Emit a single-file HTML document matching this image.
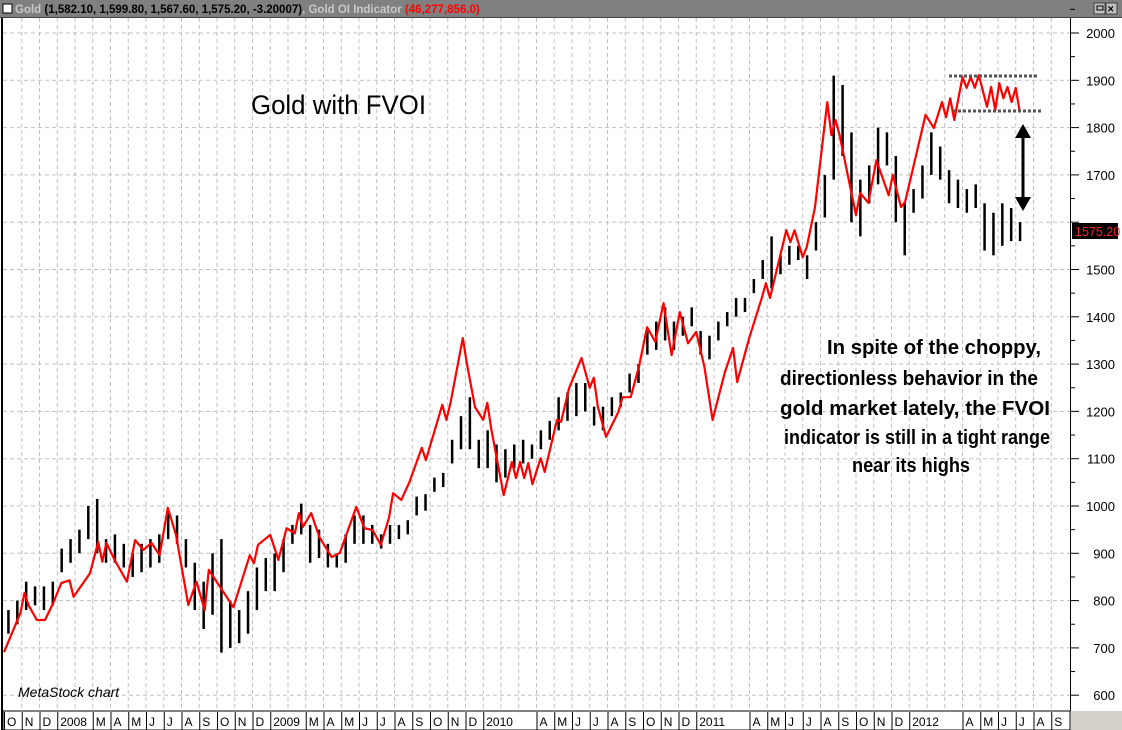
<!DOCTYPE html>
<html><head><meta charset="utf-8"><style>
html,body{margin:0;padding:0;background:#fff;}
svg{display:block;font-family:"Liberation Sans",sans-serif;}
</style></head><body>
<svg id="chart" width="1122" height="730" viewBox="0 0 1122 730" xmlns="http://www.w3.org/2000/svg">
<rect x="0" y="0" width="1122" height="730" fill="#fff"/>
<g id="grid"></g>
<g id="bars"></g>
<g id="redline"></g>
<!-- title bar -->
<rect x="0" y="0" width="1122" height="18" fill="#808080"/>
<line x1="0" y1="17.5" x2="1122" y2="17.5" stroke="#404040"/>
<rect x="3" y="4" width="9" height="9" fill="#fff" stroke="#000"/>
<text x="15" y="13" font-size="11.5" font-weight="bold"><tspan fill="#c8c8c8">Gold</tspan><tspan fill="#000"> (1,582.10, 1,599.80, 1,567.60, 1,575.20, -3.20007)</tspan><tspan fill="#c8c8c8">, Gold OI Indicator </tspan><tspan fill="#ff0000">(46,277,856.0)</tspan></text>
<rect x="1094" y="3" width="11" height="11" fill="#c0c0c0" stroke="#404040"/>
<rect x="1097" y="6" width="6" height="4" fill="none" stroke="#000"/>
<rect x="1106" y="3" width="11" height="11" fill="#c0c0c0" stroke="#404040"/>
<text x="1107.5" y="12.5" font-size="11" font-weight="bold">×</text>
<!-- frame -->
<line x1="2" y1="18" x2="2" y2="730" stroke="#000" stroke-width="2"/>
<line x1="1070.5" y1="18" x2="1070.5" y2="711" stroke="#000"/>
<g id="yaxis"></g>
<!-- x axis bar -->
<rect x="3" y="711" width="1067" height="19" fill="#fff" stroke="#000"/>
<rect x="1071" y="711" width="51" height="19" fill="#d4d0c8"/>
<g id="xaxis"></g>
<!-- annotations -->
<text x="251" y="114" font-size="27" textLength="175" lengthAdjust="spacingAndGlyphs">Gold with FVOI</text>
<g font-size="20" font-weight="bold" text-anchor="middle">
<text x="934" y="354" textLength="214" lengthAdjust="spacingAndGlyphs">In spite of the choppy,</text>
<text x="909" y="385" textLength="258" lengthAdjust="spacingAndGlyphs">directionless behavior in the</text>
<text x="915" y="415" textLength="270" lengthAdjust="spacingAndGlyphs">gold market lately, the FVOI</text>
<text x="917" y="444" textLength="266" lengthAdjust="spacingAndGlyphs">indicator is still in a tight range</text>
<text x="911" y="472" textLength="118" lengthAdjust="spacingAndGlyphs">near its highs</text>
</g>
<line x1="949" y1="76" x2="1037" y2="76" stroke="#555" stroke-width="3" stroke-dasharray="3,2"/>
<line x1="953" y1="111" x2="1041" y2="111" stroke="#555" stroke-width="3" stroke-dasharray="3,2"/>
<g>
<line x1="1023" y1="135" x2="1023" y2="200" stroke="#000" stroke-width="3"/>
<polygon points="1015,138 1031,138 1023,124" fill="#000"/>
<polygon points="1015,197 1031,197 1023,211" fill="#000"/>
</g>
<text x="18" y="697" font-size="14" font-style="italic" fill="#000">MetaStock chart</text>
<rect x="1072" y="223" width="46" height="16" fill="#000"/>
<text x="1075" y="236" font-size="12.5" fill="#ff2020">1575.20</text>
<script>
// data
const monthLabels = ["O","N","D","2008","M","A","M","J","J","A","S","O","N","D","2009","M","A","M","J","J","A","S","O","N","D","2010","A","M","J","J","A","S","O","N","D","2011","A","M","J","J","A","S","O","N","D","2012","A","M","J","J","A","S"];
const monthIndex = [0,1,2,3,5,6,7,8,9,10,11,12,13,14,15,17,18,19,20,21,22,23,24,25,26,27,30,31,32,33,34,35,36,37,38,39,42,43,44,45,46,47,48,49,50,51,54,55,56,57,58,59];
const yTicks = [600,700,800,900,1000,1100,1200,1300,1400,1500,1600,1700,1800,1900,2000];
const yTickLabels = ["600","700","800","900","1000","1100","1200","1300","1400","1500","","1700","1800","1900","2000"];
// half-month price bars (high, low)
const barHigh = [780,800,840,830,830,840,910,930,950,1000,1015,930,940,920,900,920,930,940,990,980,930,880,840,900,930,800,780,820,870,890,
 900,930,960,1005,960,950,920,900,940,980,980,960,940,960,960,970,1020,1025,1060,1070,1140,1190,1230,1140,1160,1130,1120,1130,1140,1130,
 1160,1180,1230,1240,1260,1260,1210,1210,1230,1240,1280,1300,1370,1390,1420,1390,1400,1420,1370,1360,1390,1410,1440,1440,1480,1520,1570,1530,1550,1550,
 1530,1600,1700,1910,1890,1790,1690,1720,1800,1790,1740,1640,1670,1720,1790,1760,1710,1690,1670,1680,1640,1620,1640,1630,1600];
const barLow = [730,750,780,790,780,790,860,880,900,930,900,880,880,870,850,860,870,880,930,920,870,780,740,770,690,700,710,730,780,820,
 820,860,920,940,880,890,870,870,880,920,920,920,910,920,930,940,980,990,1030,1040,1090,1120,1120,1080,1080,1050,1060,1080,1090,1100,
 1120,1140,1160,1180,1190,1200,1170,1160,1190,1210,1240,1260,1320,1330,1350,1330,1360,1380,1320,1310,1350,1380,1400,1410,1450,1480,1460,1490,1510,1520,
 1480,1540,1610,1690,1740,1600,1570,1640,1680,1720,1600,1530,1620,1650,1700,1690,1640,1630,1620,1630,1540,1530,1550,1560,1560];
// FVOI line: week number and value
const redWeek = [0,4,5,6,8,10,12,14,16,17,21,23,24,25,27,30,32,34,36,38,40,42,45,47,49,50,56,60,61,62,65,67,69,71,72,73,75,77,80,82,86,88,90,92,
 94,95,97,99,102,103,107,108,109,112,113,115,117,118,119,122,124,125,126,127,128,129,131,132,135,136,138,141,143,144,145,147,150,151,153,155,157,159,161,163,165,167,169,171,173,176,178,179,182,
 185,186,187,191,192,193,195,196,198,201,202,203,204,208,209,211,213,216,217,219,220,225,227,229,230,231,232,234,235,236,237,238,240,241,242,243,244,245,246,247,248];
const redVal = [691,774,816,790,759,759,795,837,843,808,858,924,882,922,886,840,928,907,922,896,996,939,791,840,780,865,786,896,879,918,939,886,953,942,985,956,985,934,892,901,998,953,949,918,
 975,1027,1013,1051,1123,1097,1214,1182,1218,1355,1302,1209,1182,1218,1161,1023,1093,1059,1093,1059,1091,1046,1101,1072,1182,1178,1250,1313,1250,1271,1209,1146,1199,1230,1230,1294,1378,1347,1429,1319,1410,1344,1368,1294,1182,1283,1334,1262,1357,
 1440,1471,1440,1583,1558,1583,1526,1548,1632,1854,1784,1816,1784,1615,1662,1641,1731,1657,1700,1632,1643,1827,1799,1854,1822,1862,1816,1907,1884,1907,1884,1911,1844,1886,1837,1894,1862,1886,1854,1884,1833];

const NS = "http://www.w3.org/2000/svg";
function yScale(v){ return 33 + (2000 - v) * 0.473; }
function xMonth(m){ return 4 + m * 17.75; }
function xWeek(w){ return 4 + w * 4.096; }
function mk(tag, attrs, parent){ const e = document.createElementNS(NS, tag); for (const k in attrs) e.setAttribute(k, attrs[k]); parent.appendChild(e); return e; }

const grid = document.getElementById("grid");
for (let m = 1; m < 60; m++) {
  const gl = mk("line", {x1: xMonth(m), y1: 18, x2: xMonth(m), y2: 711, stroke: "#c0c0c0", "stroke-dasharray": "4,3"}, grid);
  
  
}
const yaxis = document.getElementById("yaxis");
yTicks.forEach((v, i) => {
  const y = yScale(v);
  const gl = mk("line", {x1: 3, y1: y, x2: 1070, y2: y, stroke: "#c0c0c0", "stroke-dasharray": "4,3"}, grid);
  
  
  const t = mk("line", {x1: 1070, y1: y, x2: 1079, y2: y, stroke: "#000"}, yaxis);
  
  
  const mt = mk("line", {x1: 1070, y1: yScale(v + 50), x2: 1075, y2: yScale(v + 50), stroke: "#000"}, yaxis);
  
  
  const lb = mk("text", {x: 1115, y: y + 5, "font-size": 13, "text-anchor": "end", fill: "#000"}, yaxis);
  lb.textContent = yTickLabels[i];
  
  
});
const xaxis = document.getElementById("xaxis");
monthLabels.forEach((lab, i) => {
  const x = xMonth(monthIndex[i]);
  const s = mk("line", {x1: x + 0.5, y1: 712, x2: x + 0.5, y2: 730, stroke: "#000"}, xaxis);
  
  
  const t = mk("text", {x: x + 3, y: 726, "font-size": 12, fill: "#000"}, xaxis);
  t.textContent = lab;
  
  
});
const bars = document.getElementById("bars");
barHigh.forEach((h, i) => {
  const x = xWeek((i * 0.5 + 0.25) * 4.333);
  const b = mk("line", {x1: x, y1: yScale(h), x2: x, y2: yScale(barLow[i]), stroke: "#000", "stroke-width": 2.5}, bars);
  
  
});
const red = document.getElementById("redline");
const pts = redWeek.map((w, i) => xWeek(w).toFixed(1) + "," + yScale(redVal[i]).toFixed(1)).join(" ");
const pl = mk("polyline", {points: pts, fill: "none", stroke: "#ff0000", "stroke-width": 2.2, "stroke-linejoin": "round"}, red);


</script>
</svg>
</body></html>
